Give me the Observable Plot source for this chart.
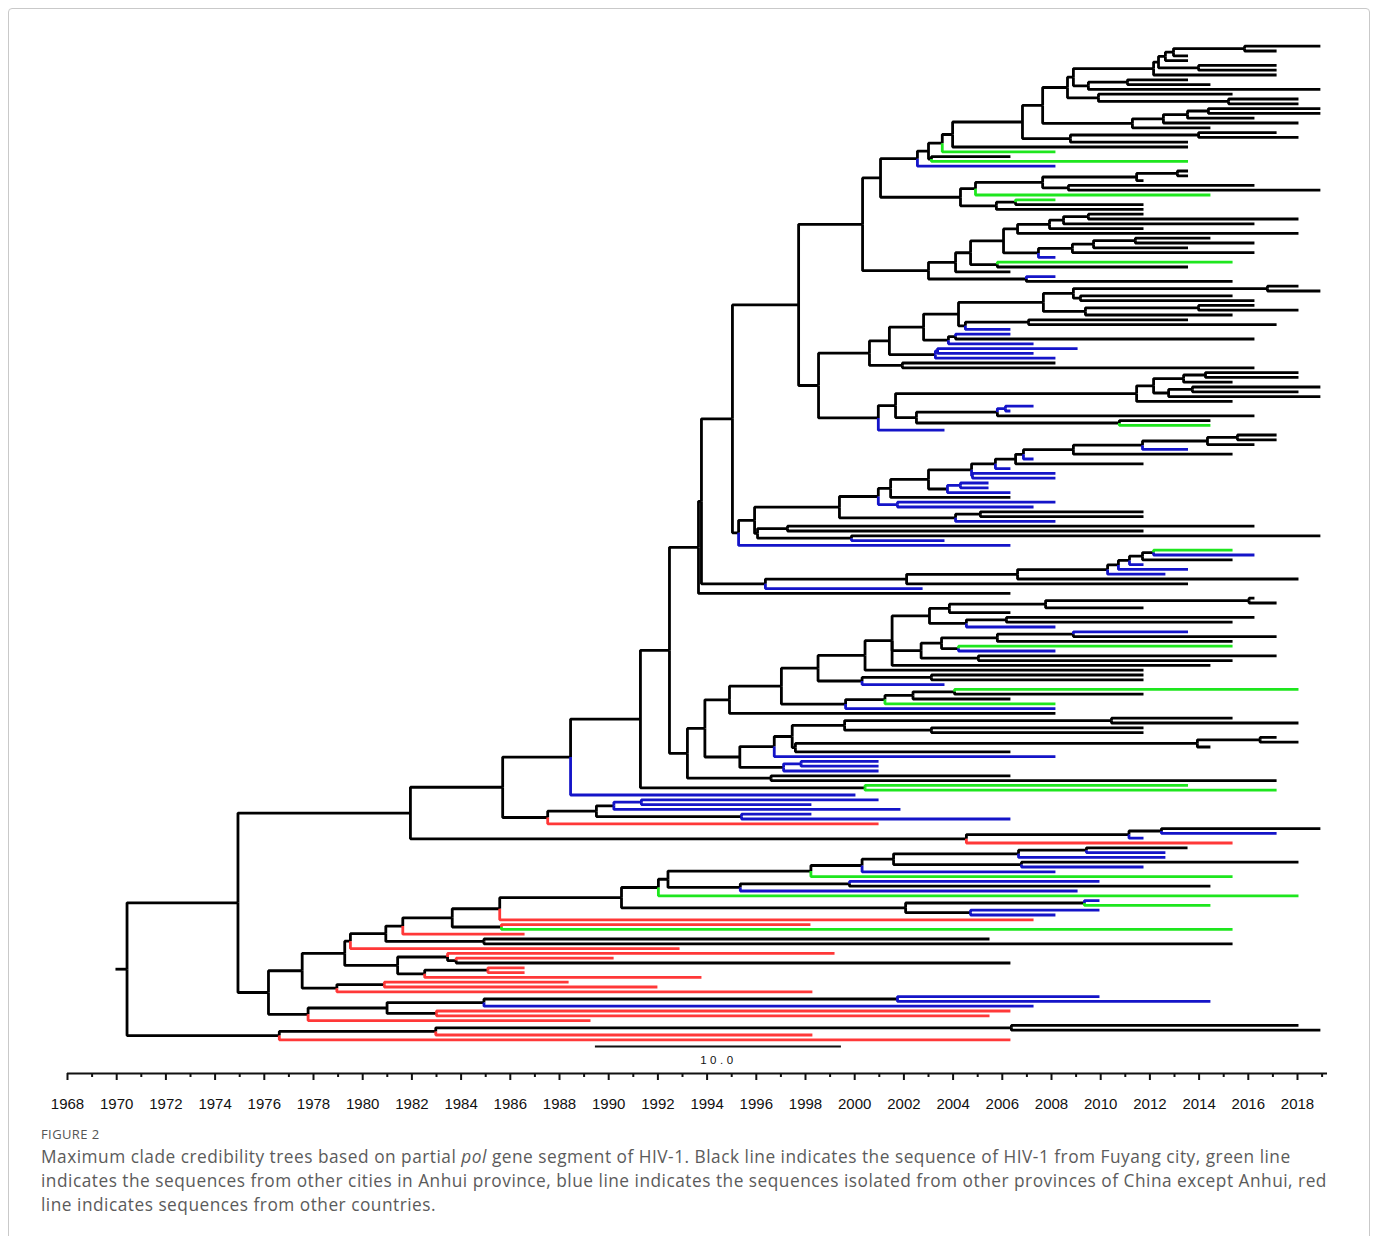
<!DOCTYPE html>
<html><head><meta charset="utf-8">
<script src="https://cdn.jsdelivr.net/npm/d3@7"></script>
<script src="https://cdn.jsdelivr.net/npm/@observablehq/plot@0.6"></script>
<style>
html,body{margin:0;padding:0;background:#fff;}
body{width:1375px;height:1236px;position:relative;overflow:hidden;font-family:"Open Sans","Noto Sans",sans-serif;}
#frame{position:absolute;left:8px;top:8px;width:1362px;height:1270px;border:1px solid #c9c9c9;border-radius:4px;box-sizing:border-box;}
#chart{position:absolute;left:0;top:0;}
#fig{position:absolute;left:41px;top:1125px;font-size:13px;color:#555;letter-spacing:0.4px;}
#cap{position:absolute;left:41px;top:1145px;font-size:17.3px;line-height:24px;color:#5b5b5b;white-space:nowrap;letter-spacing:0.5px;}
</style></head><body>
<div id="frame"></div>
<div id="chart"></div>
<div id="fig">FIGURE 2</div>
<div id="cap">Maximum clade credibility trees based on partial <i>pol</i> gene segment of HIV-1. Black line indicates the sequence of HIV-1 from Fuyang city, green line<br>indicates the sequences from other cities in Anhui province, blue line indicates the sequences isolated from other provinces of China except Anhui, red<br>line indicates sequences from other countries.</div>
<script>
// ---- colour codes of the branches ----
const colorCodes = ["k", "g", "b", "r"];
const colorValues = ["#000000", "#1ee61e", "#1414c8", "#ff3838"];
const colorNames = ["Fuyang city", "other cities in Anhui", "other provinces of China", "other countries"];

// ---- axis ticks ----
const majorYears = d3.range(1968, 2019, 2);
const minorYears = d3.range(1969, 2020, 2);
const scaleBar = [{from: 1989.46, to: 1999.46, label: "10.0"}];
const rootStubYear = 1969.95;

// ---- tree: (children)cYEAR for nodes, cYEAR for tips; c = branch colour ----
const tA1 = `(((k2018.93,k2017.15)k2015.85,k2013.55)k2012.96,k2013.55)k2012.63`;
const tA2 = `((${tA1},(k2017.15,k2017.15)k2013.98)k2012.35,k2017.15)k2012.15`;
const tA3 = `(${tA2},((k2013.55,k2014.46)k2011.09,k2018.93)k2009.50)k2008.89`;
const tA4 = `(${tA3},(k2015.36,(k2018.04,k2018.04)k2015.20)k2009.91)k2008.65`;
const tA5 = `((((k2018.93,k2018.93)k2014.38,k2016.25)k2013.53,k2018.04)k2012.55,k2014.46)k2011.29`;
const tA6 = `((${tA4},${tA5})k2007.64,((k2017.15,k2018.04)k2013.98,k2013.55)k2008.77)k2006.82`;
const tA7 = `((((${tA6},k2013.55)k2003.98,g2008.16)k2003.56,(k2006.33,g2013.55)k2003.12)k2003.00,b2008.16)k2002.55`;
const tA8 = `(((((k2013.55,k2013.55)k2013.12,k2011.74)k2011.46,(k2016.25,k2018.93)k2008.69)k2007.64,g2014.46)k2004.91,((g2008.16,k2011.74)k2006.54,k2011.74)k2005.76)k2004.30`;
const cladeA = `(${tA7},${tA8})k2001.05`;

const tB1 = `((((k2011.74,k2018.04)k2009.50,k2016.25)k2008.49,k2011.74)k2007.92,k2018.04)k2006.62`;
const tB2 = `((((k2014.46,k2016.25)k2011.41,k2013.55)k2009.71,k2016.25)k2008.85,b2008.16)k2007.47`;
const cladeB = `((((${tB1},${tB2})k2006.05,(g2015.36,k2013.55)k2005.80)k2004.71,k2006.33)k2004.10,(b2008.16,k2015.36)k2006.98)k2003.00`;

const tC1 = `(((k2018.04,k2018.93)k2016.78,(k2015.36,k2016.25)k2009.18)k2008.89,((k2016.25,k2018.04)k2013.98,k2015.36)k2009.38)k2007.67`;
const tC2 = `((${tC1},((k2013.55,k2017.15)k2007.07,b2006.33)k2004.50)k2004.22,((b2006.33,k2016.25)k2004.10,b2007.27)k2003.81)k2002.80`;
const tC3 = `((${tC2},((b2009.06,b2007.27)b2003.37,b2008.16)k2003.28)k2001.41,(k2008.16,k2016.25)k2001.94)k2000.60`;
const tC4 = `((((k2018.04,k2018.04)k2014.26,k2015.36)k2013.37,((k2018.93,k2018.04)k2013.73,k2018.93)k2012.76)k2012.15,k2015.36)k2011.46`;
const tC5 = `((${tC4},(((b2007.27,b2006.33)b2006.13,k2016.25)k2005.80,(k2014.46,g2014.46)k2010.76)k2002.51)k2001.66,b2003.65)k2000.96`;
const cladeC = `(${tC3},${tC5})k1998.53`;

const tD1 = `((((((k2017.15,k2017.15)k2015.56,k2016.25)k2014.34,b2013.55)k2011.70,k2015.36)k2008.89,b2007.27)k2006.86,k2011.74)k2006.54`;
const tD2 = `((((${tD1},b2006.33)k2005.72,(b2008.16,b2008.16)b2004.79)k2004.75,((b2005.44,b2005.44)b2004.30,b2006.33)k2003.77)k2003.00,k2006.33)k2001.46`;
const tD3 = `((${tD2},(b2008.16,b2007.27)b2001.74)k2000.96,((k2011.74,k2011.74)k2005.11,b2008.16)k2004.10)k1999.38`;
const cladeD = `((${tD3},((k2016.25,k2011.74)k1997.27,(k2018.93,b2003.65)k1999.87)k1996.05)k1995.93,b2006.33)k1995.28`;

const tE1 = `((((((g2015.36,b2016.25)k2012.15,k2015.36)k2011.70,b2011.74)k2011.17,b2013.55)k2010.72,b2012.63)k2010.28,k2018.04)k2006.62`;
const cladeE = `((${tE1},k2013.55)k2002.11,b2002.76)k1996.37`;

const upper = `(((((${cladeA},${cladeB})k2000.32,${cladeC})k1997.72,${cladeD})k1995.03,${cladeE})k1993.77,k2006.33)k1993.65`;

const tF1 = `((((k2016.25,k2017.15)k2016.03,k2011.74)k2007.76,k2006.33)k2003.85,((k2016.25,k2015.36)k2006.17,b2008.16)k2004.54)k2003.04`;
const tF2 = `((((b2013.55,k2017.15)k2008.89,k2015.36)k2005.80,(g2015.36,b2008.16)k2004.22)k2003.53,(k2017.15,k2015.36)k2005.03)k2002.70`;
const tF3 = `(((${tF1},${tF2},k2014.46)k2001.52,k2011.74)k2000.42,((k2011.74,k2011.74)k2003.12,b2003.65)k2000.30)k1998.51`;
const cladeF = `((${tF3},((((g2018.04,k2011.74)k2004.06,k2006.33)k2002.37,g2008.16)k2001.23,b2008.16)k1999.63)k1997.02,k2008.16)k1994.91`;

const cladeG = `(((((k2015.36,k2018.04)k2010.44,(k2011.74,k2011.74)k2003.12)k1999.59,(((k2017.15,k2018.04)k2016.48,k2014.46)k2013.93,k2006.33)k1997.59)k1997.46,b2008.16)k1996.73,((b2000.97,b2000.97)b1997.82,b2000.97)k1997.11)k1995.33`;

const middle = `(((${upper},((${cladeF},${cladeG})k1993.91,(k2006.33,k2017.15)k1996.60)k1993.20)k1992.47,(g2013.55,g2017.15)k2000.42)k1991.29,b2000.03)k1988.45`;
const cladeH = `((((b2000.97,b1998.24)b1991.33,b2001.86)k1990.21,(b1998.24,b2006.33)k1995.40)k1989.50,r2000.97)k1987.52`;
const cladeI = `(((k2018.93,b2017.15)k2012.47,b2011.74)k2011.15,r2015.36)k2004.54`;
const upperAll = `((${middle},${cladeH})k1985.69,${cladeI})k1981.94`;

const tJ1 = `(((((((k2013.53,b2012.63)k2009.42,b2012.63)k2006.66,(k2018.04,b2011.74)k2006.78)k2001.58,b2008.16)k2000.30,g2015.36)k1998.22,((b2009.95,k2014.46)k1999.79,b2009.06)k1995.35)k1992.41,g2018.04)k1992.02`;
const cladeJ = `(${tJ1},((b2009.95,g2014.46)k2009.34,(b2009.95,b2008.16)k2004.71)k2002.07)k1990.52`;

const tK1 = `(((((${cladeJ},r2007.27)k1985.57,(r1998.20,g2015.36)k1985.64)k1983.64,r1986.58)k1981.63,(k2005.48,k2015.36)k1984.93)k1980.94,r1992.88)k1979.50`;
const tK2 = `((r1999.18,(r1990.20,k2006.33)k1983.80)k1983.45,((r1986.58,r1986.58)k1985.09,r1993.77)k1982.52)k1981.42`;
const cladeK = `(((${tK1},${tK2})k1979.27,((r1988.37,r1991.98)k1980.88,r1998.28)k1978.95)k1977.54,((((b2009.95,b2014.46)k2001.74,b2007.27)k1984.93,(r2006.33,r2005.48)k1983.00)k1980.99,r1989.26)k1977.78)k1976.17`;
const cladeL = `(((k2018.04,k2018.93)k2006.37,r1998.28)k1982.97,r2006.33)k1976.61`;

const tree = `((${upperAll},${cladeK})k1974.93,${cladeL})k1970.42`;

// ---- parse and lay out (tips evenly spaced, nodes midway between first & last child) ----
function parseTree(str) {
  const s = str.replace(/\s+/g, "");
  let i = 0;
  function node() {
    const n = {children: []};
    if (s[i] === "(") {
      i++;
      n.children.push(node());
      while (s[i] === ",") { i++; n.children.push(node()); }
      i++;
    }
    n.c = s[i++];
    const j = i;
    while (i < s.length && /[0-9.]/.test(s[i])) i++;
    n.t = +s.slice(j, i);
    return n;
  }
  return node();
}
const root = parseTree(tree);
let leafIndex = 0;
function layout(n) {
  if (!n.children.length) n.y = leafIndex++;
  else {
    n.children.forEach(layout);
    n.y = (n.children[0].y + n.children[n.children.length - 1].y) / 2;
  }
}
layout(root);
const nLeaves = leafIndex;
const links = [{x1: rootStubYear, y1: root.y, x2: root.t, y2: root.y, c: "k"}];
(function collect(n) {
  for (const ch of n.children) {
    links.push({x1: n.t, y1: n.y, x2: ch.t, y2: ch.y, c: ch.c});
    collect(ch);
  }
})(root);
const last = nLeaves - 1;

const chart = Plot.plot({
  width: 1375,
  height: 1118,
  marginTop: 0,
  marginBottom: 45,
  marginLeft: 67,
  marginRight: 78,
  style: {fontFamily: '"Liberation Sans", Arial, sans-serif', fontSize: "15px", color: "#111", background: "transparent"},
  x: {domain: [1968, 2018], range: [67, 1297]},
  y: {domain: [0, last], range: [45.7, 1039.3], axis: null},
  color: {domain: colorCodes, range: colorValues},
  marks: [
    Plot.link(links, {x1: "x1", y1: "y1", x2: "x2", y2: "y2", stroke: "c", curve: "step-before", strokeWidth: 2.8}),
    Plot.ruleY([last], {x1: 1968, x2: 2019.22, dy: 33.7, stroke: "#111", strokeWidth: 2}),
    Plot.axisX(majorYears, {tickSize: 7, tickPadding: 18, tickFormat: d => String(d), strokeWidth: 2, label: null, fontSize: 15}),
    Plot.axisX(minorYears, {tickSize: 4, tickFormat: () => "", strokeWidth: 2, label: null}),
    Plot.ruleY(scaleBar, {x1: "from", x2: "to", y: () => last, dy: 6.7, stroke: "#111", strokeWidth: 2}),
    Plot.text(scaleBar, {x: d => (d.from + d.to) / 2, y: () => last, dy: 21, text: "label", fontSize: 11.5, fill: "#111"})
  ]
});
// widen the letter spacing of the scale-bar label as in the original figure
d3.select(chart).selectAll("text").filter(function () { return this.textContent === "10.0"; }).attr("letter-spacing", "3.5px");
document.getElementById("chart").appendChild(chart);
</script>
</body></html>
